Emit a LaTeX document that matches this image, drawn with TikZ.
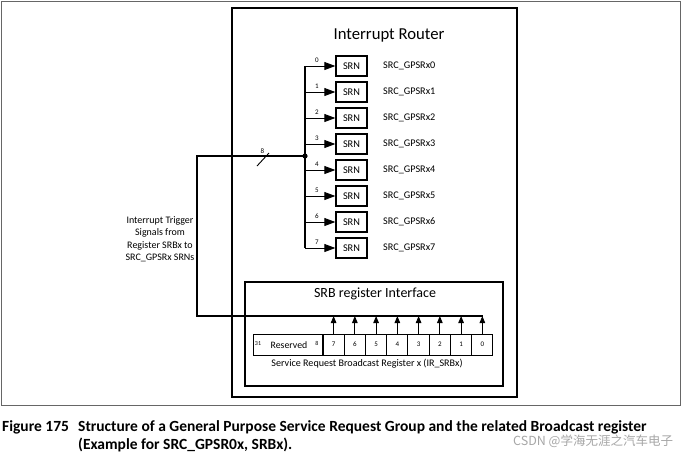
\documentclass[tikz,border=0pt]{standalone}
\usepackage{fontspec}
\setmainfont{Carlito}
\newfontfamily\cjk{Noto Sans CJK SC}
\usetikzlibrary{arrows.meta}
\tikzset{
  frame/.style={draw=black!60, line width=0.9pt},
  routerbox/.style={draw=black, line width=1.8pt},
  srbbox/.style={draw=black, line width=1.5pt},
  srn/.style={draw=black, line width=1.3pt, minimum width=31pt, minimum height=20pt, inner sep=0pt, font=\fontsize{10.3}{12}\selectfont},
  wire/.style={draw=black, line width=1.2pt},
  branch/.style={draw=black, line width=0.9pt, -{Triangle[length=11pt,width=8pt]}},
  uparrow/.style={draw=black, line width=0.9pt, -{Triangle[length=7pt,width=5.5pt]}},
  cell/.style={draw=black, line width=1pt, minimum width=21.25pt, minimum height=21pt, inner sep=0pt, font=\fontsize{7}{8}\selectfont},
  lab/.style={font=\fontsize{10.2}{12}\selectfont, inner sep=0pt},
  tiny/.style={font=\fontsize{7}{8}\selectfont, inner sep=0pt},
  caption/.style={anchor=west, inner sep=0pt, font=\bfseries\fontsize{15.5}{18}\selectfont},
}
\begin{document}
\begin{tikzpicture}[x=1pt,y=-1pt]
\useasboundingbox (0,0) rectangle (681,456);
\draw[frame] (1,1) rectangle (680,405);
\draw[routerbox] (232,8) rectangle (517,397);
\node[inner sep=0pt, font=\fontsize{16.7}{20}\selectfont] (title) at (389,35) {Interrupt Router};
\foreach \i in {0,...,7} {
  \pgfmathsetmacro{\yy}{66+26*\i}
  \node[srn] (srn\i) at (351.5,\yy) {SRN};
  \node[lab, anchor=west] (name\i) at (383,\yy) {SRC\_GPSRx\i};
  \coordinate (j\i) at (305,\yy);
  \draw[branch] (j\i) -- (srn\i.west);
  \node[tiny] (num\i) at (317,\yy-6) {\i};
}
\draw[wire] (j0) -- (j7);
\coordinate (bus) at (305,156);
\fill (bus) circle (2.6pt);
\coordinate (wc1) at (197,156);
\coordinate (wc2) at (197,316);
\coordinate (wend) at (482.5,316);
\draw[wire] (bus) -- (wc1) -- (wc2) -- (wend);
\coordinate (s1) at (257,166);
\coordinate (s2) at (269,153);
\draw[line width=0.9pt] (s1) -- (s2);
\node[tiny] (buswidth) at (262.5,151) {8};
\node[lab, align=center, font=\fontsize{10}{12.5}\selectfont] (sig) at (160,239) {Interrupt Trigger\\Signals from\\Register SRBx to\\SRC\_GPSRx SRNs};
\draw[srbbox] (245,282) rectangle (503,386);
\node[inner sep=0pt, font=\fontsize{14}{16}\selectfont] (srbtitle) at (375,294) {SRB register Interface};
\node[draw=black, line width=1pt, minimum width=70pt, minimum height=21pt, inner sep=0pt] (res) at (288,344.5) {};
\node[tiny] at (258,343.5) {\fontsize{6}{7}\selectfont 31};
\node[inner sep=0pt, font=\fontsize{9.8}{11}\selectfont] at (289,345) {Reserved};
\node[tiny] at (317,343) {\fontsize{6}{7}\selectfont 8};
\foreach \b [count=\k from 0] in {7,6,5,4,3,2,1,0} {
  \node[cell] (c\b) at (333.6+21.25*\k,344.5) {\b};
  \draw[uparrow] (c\b.north) -- (c\b.north |- wend);
}
\node[lab, font=\fontsize{10.1}{12}\selectfont] (regname) at (367,364) {Service Request Broadcast Register x (IR\_SRBx)};
\node[caption] (fig) at (2,427) {Figure 175};
\node[caption] (cap1) at (78,427) {Structure of a General Purpose Service Request Group and the related Broadcast register};
\node[caption] (cap2) at (78,445) {(Example for SRC\_GPSR0x, SRBx).};
\node[anchor=west, inner sep=0pt, text=black!35, font=\cjk\fontsize{12.5}{14}\selectfont] (wm) at (513,441) {CSDN @学海无涯之汽车电子};
\end{tikzpicture}
\end{document}
